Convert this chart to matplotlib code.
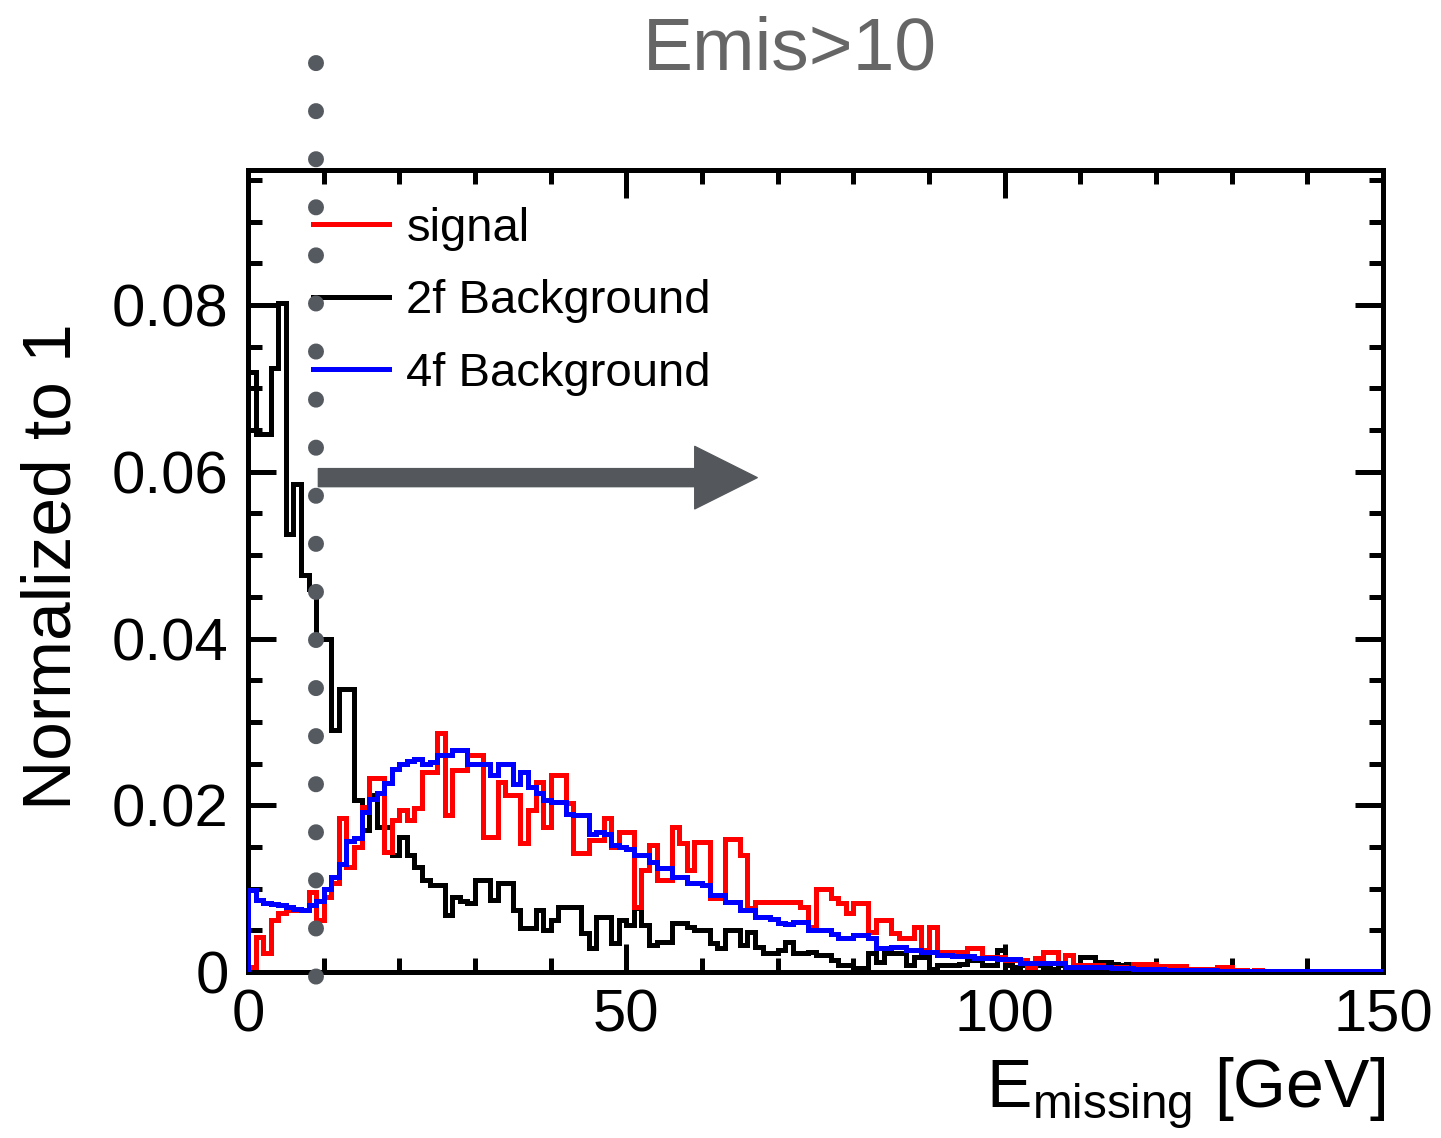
import numpy as np
import matplotlib.pyplot as plt
from matplotlib.lines import Line2D
from matplotlib.patches import FancyArrowPatch
from matplotlib.ticker import MultipleLocator, FuncFormatter

plt.rcParams['font.family'] = ['Liberation Sans', 'DejaVu Sans']

# 1 GeV bins, 0..150 GeV
edges = np.arange(0, 151, 1)

signal = [
    0.0006, 0.0042, 0.0023, 0.0062, 0.0071, 0.0074, 0.0074, 0.0074, 0.0096, 0.0062,
    0.0090, 0.0107, 0.0185, 0.0126, 0.0150, 0.0198, 0.0233, 0.0233, 0.0144, 0.0182,
    0.0194, 0.0182, 0.0197, 0.0240, 0.0240, 0.0287, 0.0188, 0.0242, 0.0242, 0.0260,
    0.0260, 0.0162, 0.0162, 0.0228, 0.0212, 0.0212, 0.0155, 0.0194, 0.0228, 0.0174,
    0.0236, 0.0236, 0.0203, 0.0143, 0.0143, 0.0158, 0.0158, 0.0185, 0.0150, 0.0168,
    0.0168, 0.0078, 0.0122, 0.0152, 0.0110, 0.0110, 0.0174, 0.0155, 0.0122, 0.0156,
    0.0156, 0.0089, 0.0089, 0.0160, 0.0160, 0.0140, 0.0077, 0.0084, 0.0084, 0.0084,
    0.0084, 0.0084, 0.0084, 0.0078, 0.0054, 0.0100, 0.0100, 0.0089, 0.0083, 0.0071,
    0.0083, 0.0083, 0.0048, 0.0062, 0.0062, 0.0047, 0.0041, 0.0041, 0.0054, 0.0026,
    0.0054, 0.0024, 0.0024, 0.0024, 0.0024, 0.0029, 0.0029, 0.0018, 0.0018, 0.0018,
    0.0014, 0.0014, 0.0014, 0.0006, 0.0017, 0.0024, 0.0024, 0.0011, 0.0020, 0.0008,
    0.0008, 0.0008, 0.0008, 0.0006, 0.0006, 0.0006, 0.0005, 0.0010, 0.0010, 0.0010,
    0.0007, 0.0007, 0.0007, 0.0007, 0.0004, 0.0003, 0.0003, 0.0003, 0.0006, 0.0006,
    0.0002, 0.0002, 0.0001, 0.0002, 0.0001, 0.0001, 0.0001, 0.0000, 0.0001, 0.0000,
    0.0000, 0.0000, 0.0000, 0.0000, 0.0000, 0.0000, 0.0000, 0.0000, 0.0000, 0.0000,
]

bkg_2f = [
    0.0720, 0.0645, 0.0645, 0.0725, 0.0802, 0.0525, 0.0585, 0.0476, 0.0460, 0.0400,
    0.0400, 0.0290, 0.0340, 0.0340, 0.0206, 0.0170, 0.0212, 0.0174, 0.0174, 0.0140,
    0.0162, 0.0140, 0.0126, 0.0110, 0.0104, 0.0104, 0.0068, 0.0090, 0.0085, 0.0083,
    0.0110, 0.0110, 0.0086, 0.0107, 0.0107, 0.0074, 0.0053, 0.0053, 0.0074, 0.0050,
    0.0062, 0.0078, 0.0078, 0.0078, 0.0047, 0.0029, 0.0066, 0.0066, 0.0035, 0.0062,
    0.0056, 0.0077, 0.0056, 0.0032, 0.0036, 0.0036, 0.0059, 0.0059, 0.0054, 0.0050,
    0.0050, 0.0035, 0.0029, 0.0050, 0.0050, 0.0032, 0.0048, 0.0030, 0.0023, 0.0023,
    0.0026, 0.0036, 0.0023, 0.0023, 0.0024, 0.0020, 0.0020, 0.0014, 0.0008, 0.0008,
    0.0005, 0.0005, 0.0023, 0.0012, 0.0023, 0.0023, 0.0023, 0.0008, 0.0018, 0.0018,
    0.0004, 0.0008, 0.0008, 0.0008, 0.0010, 0.0014, 0.0014, 0.0008, 0.0008, 0.0026,
    0.0008, 0.0006, 0.0008, 0.0005, 0.0008, 0.0006, 0.0004, 0.0008, 0.0006, 0.0005,
    0.0018, 0.0018, 0.0012, 0.0012, 0.0010, 0.0008, 0.0010, 0.0006, 0.0005, 0.0004,
    0.0003, 0.0004, 0.0002, 0.0003, 0.0002, 0.0001, 0.0002, 0.0001, 0.0001, 0.0001,
    0.0001, 0.0001, 0.0000, 0.0001, 0.0000, 0.0000, 0.0001, 0.0000, 0.0000, 0.0000,
    0.0000, 0.0000, 0.0000, 0.0000, 0.0000, 0.0000, 0.0000, 0.0000, 0.0000, 0.0000,
]

bkg_4f = [
    0.0098, 0.0086, 0.0083, 0.0082, 0.0080, 0.0078, 0.0076, 0.0074, 0.0080, 0.0085,
    0.0100, 0.0114, 0.0130, 0.0157, 0.0161, 0.0192, 0.0208, 0.0215, 0.0227, 0.0243,
    0.0250, 0.0253, 0.0255, 0.0250, 0.0252, 0.0260, 0.0260, 0.0266, 0.0266, 0.0250,
    0.0250, 0.0250, 0.0236, 0.0250, 0.0250, 0.0225, 0.0240, 0.0222, 0.0215, 0.0206,
    0.0204, 0.0204, 0.0190, 0.0188, 0.0188, 0.0166, 0.0168, 0.0166, 0.0152, 0.0150,
    0.0148, 0.0140, 0.0140, 0.0132, 0.0125, 0.0125, 0.0114, 0.0114, 0.0107, 0.0107,
    0.0104, 0.0092, 0.0092, 0.0084, 0.0084, 0.0074, 0.0074, 0.0066, 0.0066, 0.0064,
    0.0059, 0.0058, 0.0060, 0.0060, 0.0050, 0.0050, 0.0050, 0.0045, 0.0041, 0.0041,
    0.0044, 0.0044, 0.0041, 0.0029, 0.0029, 0.0030, 0.0030, 0.0026, 0.0026, 0.0024,
    0.0024, 0.0020, 0.0020, 0.0019, 0.0019, 0.0019, 0.0017, 0.0017, 0.0017, 0.0016,
    0.0016, 0.0016, 0.0011, 0.0011, 0.0011, 0.0011, 0.0011, 0.0011, 0.0006, 0.0006,
    0.0006, 0.0006, 0.0006, 0.0006, 0.0005, 0.0005, 0.0005, 0.0003, 0.0003, 0.0003,
    0.0003, 0.0002, 0.0002, 0.0002, 0.0002, 0.0002, 0.0002, 0.0002, 0.0001, 0.0001,
    0.0001, 0.0001, 0.0001, 0.0001, 0.0001, 0.0001, 0.0001, 0.0001, 0.0001, 0.0001,
    0.0001, 0.0001, 0.0001, 0.0001, 0.0001, 0.0001, 0.0001, 0.0001, 0.0001, 0.0001,
]

labels = ['signal', '2f Background', '4f Background']
colors = ['#ff0000', '#000000', '#0000ff']

cut_value = 9.0      # GeV, dotted cut line
arrow_to = 67.3      # GeV, arrow tip
arrow_y = 0.0593
dot_top = 0.109      # dotted line runs above the frame

W, H = 1441, 1138
fig = plt.figure(figsize=(W / 100, H / 100), dpi=100)
ax = fig.add_axes([248 / W, 1 - 972 / H, (1383 - 248) / W, (972 - 170) / H])

lw = 3.6
ax.stairs(bkg_2f, edges, color=colors[1], lw=lw, zorder=2)
ax.stairs(signal, edges, color=colors[0], lw=lw, zorder=3)
ax.stairs(bkg_4f, edges, color=colors[2], lw=lw, zorder=4)

ax.set_xlim(0, 150)
ax.set_ylim(0, 0.0962)

ax.xaxis.set_major_locator(MultipleLocator(50))
ax.xaxis.set_minor_locator(MultipleLocator(10))
ax.yaxis.set_major_locator(MultipleLocator(0.02))
ax.yaxis.set_minor_locator(MultipleLocator(0.005))
ax.yaxis.set_major_formatter(FuncFormatter(lambda v, p: '0' if abs(v) < 1e-9 else f'{v:.2f}'))
ax.xaxis.set_major_formatter(FuncFormatter(lambda v, p: f'{v:.0f}'))
ax.tick_params(which='both', direction='in', top=True, right=True, width=lw)
ax.tick_params(which='major', length=20, labelsize=43)
ax.tick_params(which='minor', length=10)
ax.tick_params(axis='y', pad=14)
ax.tick_params(axis='x', pad=12)
for s in ax.spines.values():
    s.set_linewidth(lw)

# cut line (runs a little below zero so the bottom dot is drawn) and selection arrow
ax.plot([cut_value, cut_value], [dot_top, -0.0015], color='#555a60', lw=11.5,
        linestyle=(0, (0.01, 3)), dash_capstyle='round', clip_on=False, zorder=7)
arrow = FancyArrowPatch((cut_value + 0.3, arrow_y), (arrow_to, arrow_y),
                        arrowstyle='simple,head_length=45,head_width=45,tail_width=13',
                        mutation_scale=1, color='#54575c', shrinkA=0, shrinkB=0, zorder=6)
ax.add_patch(arrow)

handles = [Line2D([], [], color=c, lw=lw) for c in colors]
ax.legend(handles, labels, loc='upper left', bbox_to_anchor=(313 / W, 1 - 207 / H),
          bbox_transform=fig.transFigure, frameon=False, fontsize=34,
          handlelength=1.6, handletextpad=0.38, labelspacing=0.6,
          borderpad=0, borderaxespad=0)

fig.text(53 / W, 1 - 567 / H, 'Normalized to 1', rotation=90, fontsize=50,
         ha='center', va='center')
fig.text(1385 / W, 1 - 1108 / H, r'E$_{\mathregular{missing}}$ [GeV]', fontsize=49,
         ha='right', va='baseline')
fig.text(790 / W, 1 - 70 / H, 'Emis>10', fontsize=54, color='#666666',
         ha='center', va='baseline')

fig.savefig('out.png', dpi=100)
